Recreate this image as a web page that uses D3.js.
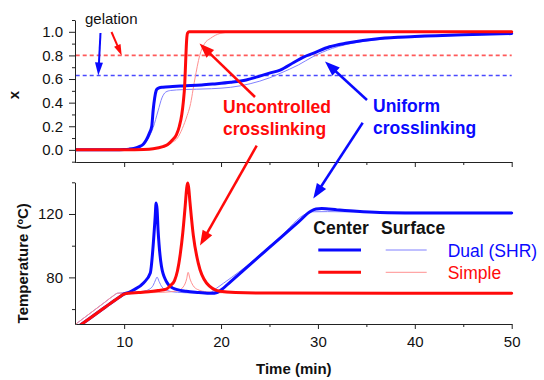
<!DOCTYPE html>
<html><head><meta charset="utf-8">
<script src="https://cdn.jsdelivr.net/npm/d3@7"></script>
<style>
html,body{margin:0;padding:0;background:#fff;}
svg{display:block;font-family:"Liberation Sans",Arial,sans-serif;}
</style></head><body>
<svg id="chart" width="544" height="380"></svg>
<script>
// ---------------- data ----------------
const timeDomain = [5, 50];
const timeTicks = [10, 20, 30, 40, 50];
const timeMinorTicks = [15, 25, 35, 45];
const convTicks = [0, 0.2, 0.4, 0.6, 0.8, 1.0];
const convMinorTicks = [-0.1, 0.1, 0.3, 0.5, 0.7, 0.9, 1.1];
const tempTicks = [80, 120];
const tempMinorTicks = [60, 100, 140];

const systems = ["Dual (SHR)", "Simple"];
const positions = ["Center", "Surface"];

// gel point conversions
const gelationDual = 0.63;
const gelationSimple = 0.8;

// conversion vs time [min, x]
const convDualCenter = [[5,0],[9,0.001],[10,0.003],[10.5,0.006],[11,0.012],[11.5,0.025],[12,0.05],[12.3,0.085],
  [12.6,0.14],[12.85,0.2],[13.0,0.34],[13.15,0.44],[13.3,0.5],[13.4,0.515],[13.6,0.525],[14,0.531],[15,0.537],
  [16,0.542],[18,0.55],[19.2,0.558],[21,0.572],[22.6,0.592],[24,0.625],[25,0.65],[26.1,0.676],[27.5,0.74],
  [28.5,0.785],[29.5,0.817],[31.2,0.873],[33,0.905],[36.4,0.944],[40,0.96],[45,0.975],[50,0.985]];
const convDualSurface = [[5,0],[10,0.004],[11,0.012],[11.5,0.025],[12,0.05],[12.5,0.1],[13,0.19],[13.5,0.33],
  [13.9,0.44],[14.3,0.49],[14.8,0.503],[16,0.51],[19,0.518],[21,0.53],[23,0.56],[25,0.61],[26.1,0.648],
  [28,0.72],[29.5,0.79],[31.5,0.86],[34,0.91],[37,0.94],[42,0.962],[50,0.982]];
const convSimpleCenter = [[5,0],[10,0.001],[12,0.004],[13,0.01],[14,0.028],[14.5,0.045],[15,0.085],[15.4,0.13],
  [15.7,0.2],[15.95,0.3],[16.1,0.4],[16.25,0.55],[16.35,0.75],[16.45,0.93],[16.55,0.99],[16.7,1.0],[50,1.0]];
const convSimpleSurface = [[5,0],[12,0.004],[13,0.01],[14,0.025],[15,0.065],[15.5,0.1],[16,0.18],[16.5,0.29],
  [16.8,0.37],[17.3,0.6],[17.8,0.8],[18.3,0.9],[18.9,0.944],[19.9,0.986],[21,0.998],[22,1.0],[50,1.0]];

// temperature vs time [min, °C]
const tempDualCenter = [[5.5,50],[7,56.6],[8,61],[9,65.4],[9.6,68],[10,69.6],[10.5,70.6],[11,72.2],[12,76.5],
  [12.7,82.8],[13.04,103.8],[13.2,118],[13.3,127],[13.4,123],[13.5,110],[13.6,101],[13.85,87],[14.35,77.5],
  [15,73.3],[16.4,71.2],[17.7,70.5],[19,70],[19.6,70.5],[20,72],[21,77.4],[25,98.9],[28,115],[29.3,121.9],
  [29.8,123.1],[30.4,123.4],[32,122.6],[34,121.7],[36.4,121],[40,120.7],[50,120.6]];
const tempDualSurface = [[5,50.5],[6,55.1],[7,59.7],[8,64.3],[9,68.9],[9.3,70],[10,70.3],[11,70.6],[12,71.3],
  [12.6,72.5],[13.0,75],[13.25,78.5],[13.4,80.2],[13.6,77.5],[13.9,74],[14.5,71.6],[15.5,70.6],[17,70.2],
  [18.5,70],[19.0,70.8],[19.5,73],[22.6,87],[26,105],[28.9,120.5],[29.5,121.4],[31,121.5],[35,121.2],[50,121]];
const tempSimpleCenter = [[5.5,50],[7,56.6],[8,61],[9,65.4],[9.6,68],[10,69.4],[10.5,70],[11.5,70.4],
  [12.5,70.9],[13.5,71.7],[14.35,72.6],[14.8,75],[15.2,78],[15.5,84],[15.8,95],[16.05,108],[16.3,125],
  [16.45,136],[16.55,139.5],[16.65,137],[16.8,127],[17.15,106],[17.65,89],[18.5,76.5],[19.9,71.2],
  [21.5,70.4],[25,70.1],[50,70]];
const tempSimpleSurface = [[5,50.5],[6,55.1],[7,59.7],[8,64.3],[9,68.9],[9.3,70],[10,70.1],[12,70.3],[14,70.6],
  [15.5,71.5],[16.1,74],[16.45,79],[16.6,83.2],[16.8,79],[17.1,75],[17.6,72.3],[18.5,70.9],[20,70.3],
  [25,70.1],[50,70]];

// ---------------- styles ----------------
const BLUE = "#0a0aff", RED = "#ff0a0a";
const BLUE_THIN = "#8080ff", RED_THIN = "#ff9090";

const svg = d3.select("#chart");
svg.append("rect").attr("width", 544).attr("height", 380).attr("fill", "#fff");

const x = d3.scaleLinear().domain(timeDomain).range([75.7, 511.7]);
const yConv = d3.scaleLinear().domain([-0.107, 1.1]).range([162.5, 20]);
const yTemp = d3.scaleLinear().domain([50.4, 140]).range([324.3, 182.3]);

// clip regions for the two panels
const defs = svg.append("defs");
defs.append("clipPath").attr("id", "clipTop").append("rect")
  .attr("x", 76).attr("y", 18).attr("width", 440).attr("height", 144);
defs.append("clipPath").attr("id", "clipBot").append("rect")
  .attr("x", 76).attr("y", 178).attr("width", 440).attr("height", 146);

function styleAxis(g) {
  g.selectAll("path.domain").attr("stroke", "#222").attr("stroke-width", 1);
  g.selectAll(".tick line").attr("stroke", "#222").attr("stroke-width", 1);
  g.selectAll(".tick text").attr("fill", "#111").attr("font-size", 15)
    .attr("font-family", "Liberation Sans, Arial, sans-serif");
}

// ----- top panel axes -----
const gTopY = svg.append("g").attr("transform", "translate(75,0)");
gTopY.call(d3.axisLeft(yConv).tickValues(convTicks).tickSize(6).tickSizeOuter(0).tickPadding(6)
  .tickFormat(d3.format(".1f")));
gTopY.append("g").call(d3.axisLeft(yConv).tickValues(convMinorTicks).tickSize(3).tickFormat(""))
  .select("path.domain").remove();
styleAxis(gTopY);

const gTopX = svg.append("g").attr("transform", "translate(0,162)");
gTopX.call(d3.axisBottom(x).tickValues(timeTicks).tickSize(5).tickSizeOuter(0).tickFormat(""));
gTopX.append("g").call(d3.axisBottom(x).tickValues(timeMinorTicks).tickSize(3).tickFormat(""))
  .select("path.domain").remove();
styleAxis(gTopX);

// ----- bottom panel axes -----
const gBotY = svg.append("g").attr("transform", "translate(75,0)");
gBotY.call(d3.axisLeft(yTemp).tickValues(tempTicks).tickSize(6).tickSizeOuter(0).tickPadding(6));
gBotY.append("g").call(d3.axisLeft(yTemp).tickValues(tempMinorTicks).tickSize(3).tickFormat(""))
  .select("path.domain").remove();
styleAxis(gBotY);

const gBotX = svg.append("g").attr("transform", "translate(0,324)");
gBotX.call(d3.axisBottom(x).tickValues(timeTicks).tickSize(5).tickSizeOuter(0).tickPadding(7.5));
gBotX.append("g").call(d3.axisBottom(x).tickValues(timeMinorTicks).tickSize(3).tickFormat(""))
  .select("path.domain").remove();
styleAxis(gBotX);

// axis titles
svg.append("text").attr("transform", "translate(19.3,95) rotate(-90)")
  .attr("text-anchor", "middle").attr("font-weight", "bold").attr("font-size", 15).attr("fill", "#111")
  .text("x");
svg.append("text").attr("transform", "translate(28.3,263.3) rotate(-90)")
  .attr("text-anchor", "middle").attr("font-weight", "bold").attr("font-size", 15).attr("fill", "#111")
  .text("Temperature (ºC)");
svg.append("text").attr("x", 293.8).attr("y", 374)
  .attr("text-anchor", "middle").attr("font-weight", "bold").attr("font-size", 15).attr("fill", "#111")
  .text("Time (min)");

// ----- top panel: gel point lines and conversion curves -----
const convPanel = svg.append("g").attr("clip-path", "url(#clipTop)");
convPanel.append("line").attr("x1", x(timeDomain[0])).attr("x2", x(timeDomain[1]))
  .attr("y1", yConv(gelationSimple)).attr("y2", yConv(gelationSimple))
  .attr("stroke", "#ff5a5a").attr("stroke-width", 1.6).attr("stroke-dasharray", "4,3");
convPanel.append("line").attr("x1", x(timeDomain[0])).attr("x2", x(timeDomain[1]))
  .attr("y1", yConv(gelationDual)).attr("y2", yConv(gelationDual))
  .attr("stroke", "#4a4aff").attr("stroke-width", 1.6).attr("stroke-dasharray", "4,3");

const lineConv = d3.line().x(d => x(d[0])).y(d => yConv(d[1])).curve(d3.curveMonotoneX);
const lineTemp = d3.line().x(d => x(d[0])).y(d => yTemp(d[1])).curve(d3.curveMonotoneX);

function drawSeries(g, gen, data, color, width) {
  g.append("path").datum(data).attr("d", gen).attr("fill", "none")
    .attr("stroke", color).attr("stroke-width", width)
    .attr("stroke-linejoin", "round").attr("stroke-linecap", "round");
}

drawSeries(convPanel, lineConv, convDualSurface, BLUE_THIN, 1);
drawSeries(convPanel, lineConv, convSimpleSurface, RED_THIN, 1);
drawSeries(convPanel, lineConv, convDualCenter, BLUE, 3);
drawSeries(convPanel, lineConv, convSimpleCenter, RED, 3);

// ----- bottom panel: temperature curves -----
const tempPanel = svg.append("g").attr("clip-path", "url(#clipBot)");
drawSeries(tempPanel, lineTemp, tempDualSurface, BLUE_THIN, 1);
drawSeries(tempPanel, lineTemp, tempSimpleSurface, RED_THIN, 1);
drawSeries(tempPanel, lineTemp, tempDualCenter, BLUE, 3);
drawSeries(tempPanel, lineTemp, tempSimpleCenter, RED, 3);

// ----- annotations -----
function arrow(from, to, color, width, headLen, headW) {
  const dx = to[0] - from[0], dy = to[1] - from[1];
  const len = Math.hypot(dx, dy), ux = dx / len, uy = dy / len;
  const bx = to[0] - ux * headLen, by = to[1] - uy * headLen;
  svg.append("line").attr("x1", from[0]).attr("y1", from[1]).attr("x2", bx + ux).attr("y2", by + uy)
    .attr("stroke", color).attr("stroke-width", width);
  const px = -uy * headW / 2, py = ux * headW / 2;
  svg.append("path")
    .attr("d", `M${to[0]},${to[1]}L${bx + px},${by + py}L${bx - px},${by - py}Z`)
    .attr("fill", color);
}

svg.append("text").attr("x", 85).attr("y", 24).attr("font-size", 15).attr("fill", "#111").text("gelation");
arrow([100.5, 33], [98.3, 75.5], BLUE, 2, 13, 8);
arrow([111.5, 32], [121.7, 55.5], RED, 2, 11, 7);

arrow([255, 97], [199.5, 43.5], RED, 2.5, 15, 11);
arrow([256.7, 145.7], [200, 245.5], RED, 2.5, 15, 11);
arrow([367, 100], [325, 61.5], BLUE, 2.5, 15, 11);
arrow([362.7, 122.7], [313.3, 198.5], BLUE, 2.5, 15, 11);

const bold = (t, xx, yy, color) => svg.append("text").attr("x", xx).attr("y", yy)
  .attr("font-size", 17.5).attr("font-weight", "bold").attr("fill", color).text(t);
bold("Uncontrolled", 223, 113.3, RED);
bold("crosslinking", 223, 135.3, RED);
bold("Uniform", 373, 112, BLUE);
bold("crosslinking", 373, 134.3, BLUE);

// ----- legend -----
bold(positions[0], 313.3, 234, "#111");
bold(positions[1], 381, 234, "#111");
const legendRows = [
  {label: systems[0], center: BLUE, surface: BLUE_THIN, y: 250, ty: 256.5},
  {label: systems[1], center: RED, surface: RED_THIN, y: 272.3, ty: 279}
];
legendRows.forEach(r => {
  svg.append("line").attr("x1", 318.3).attr("x2", 361).attr("y1", r.y).attr("y2", r.y)
    .attr("stroke", r.center).attr("stroke-width", 3);
  svg.append("line").attr("x1", 385.7).attr("x2", 426.7).attr("y1", r.y).attr("y2", r.y)
    .attr("stroke", r.surface).attr("stroke-width", 1);
  svg.append("text").attr("x", 447.7).attr("y", r.ty).attr("font-size", 17.5)
    .attr("fill", r.center).text(r.label);
});
</script>
</body></html>
